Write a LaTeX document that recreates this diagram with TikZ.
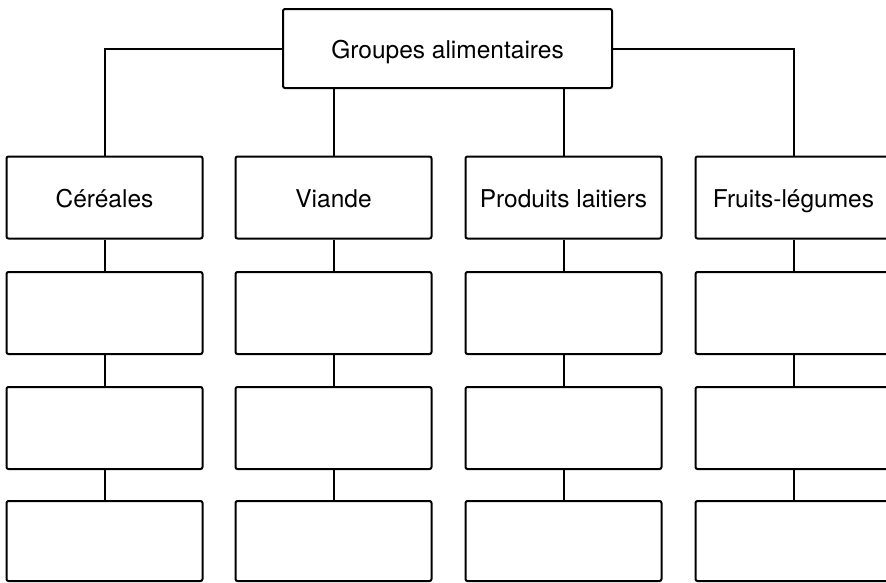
\documentclass[tikz,border=0pt]{standalone}
\usepackage{fontspec}
\setmainfont{TeX Gyre Heros}
\begin{document}
\begin{tikzpicture}[x=1pt,y=-1pt,
  box/.style={draw, line width=2pt, rounded corners=2pt, minimum width=196pt, minimum height=82pt, inner sep=0pt,
    text height=25pt, text depth=5pt, font=\fontsize{24.5}{28}\selectfont},
  topbox/.style={box, minimum width=329pt, minimum height=79pt},
  link/.style={line width=2pt}]
\useasboundingbox (0,0) rectangle (886,582);
\node[topbox] (top) at (447.5,48.5) {Groupes alimentaires};
\foreach \c/\x/\t in {1/104.5/Céréales, 2/333.5/Viande, 3/563.5/Produits laitiers, 4/793.5/Fruits-légumes}{
  \node[box] (r1c\c) at (\x,197.5) {\t};
  \node[box] (r2c\c) at (\x,313) {};
  \node[box] (r3c\c) at (\x,428) {};
  \node[box, minimum height=80pt] (r4c\c) at (\x,541) {};
  \draw[link] (r1c\c.south) -- (r2c\c.north);
  \draw[link] (r2c\c.south) -- (r3c\c.north);
  \draw[link] (r3c\c.south) -- (r4c\c.north);
}
\draw[link] (top.west) -| (r1c1.north);
\draw[link] (top.east) -| (r1c4.north);
\draw[link] (top.south -| r1c2.north) -- (r1c2.north);
\draw[link] (top.south -| r1c3.north) -- (r1c3.north);
\end{tikzpicture}
\end{document}
